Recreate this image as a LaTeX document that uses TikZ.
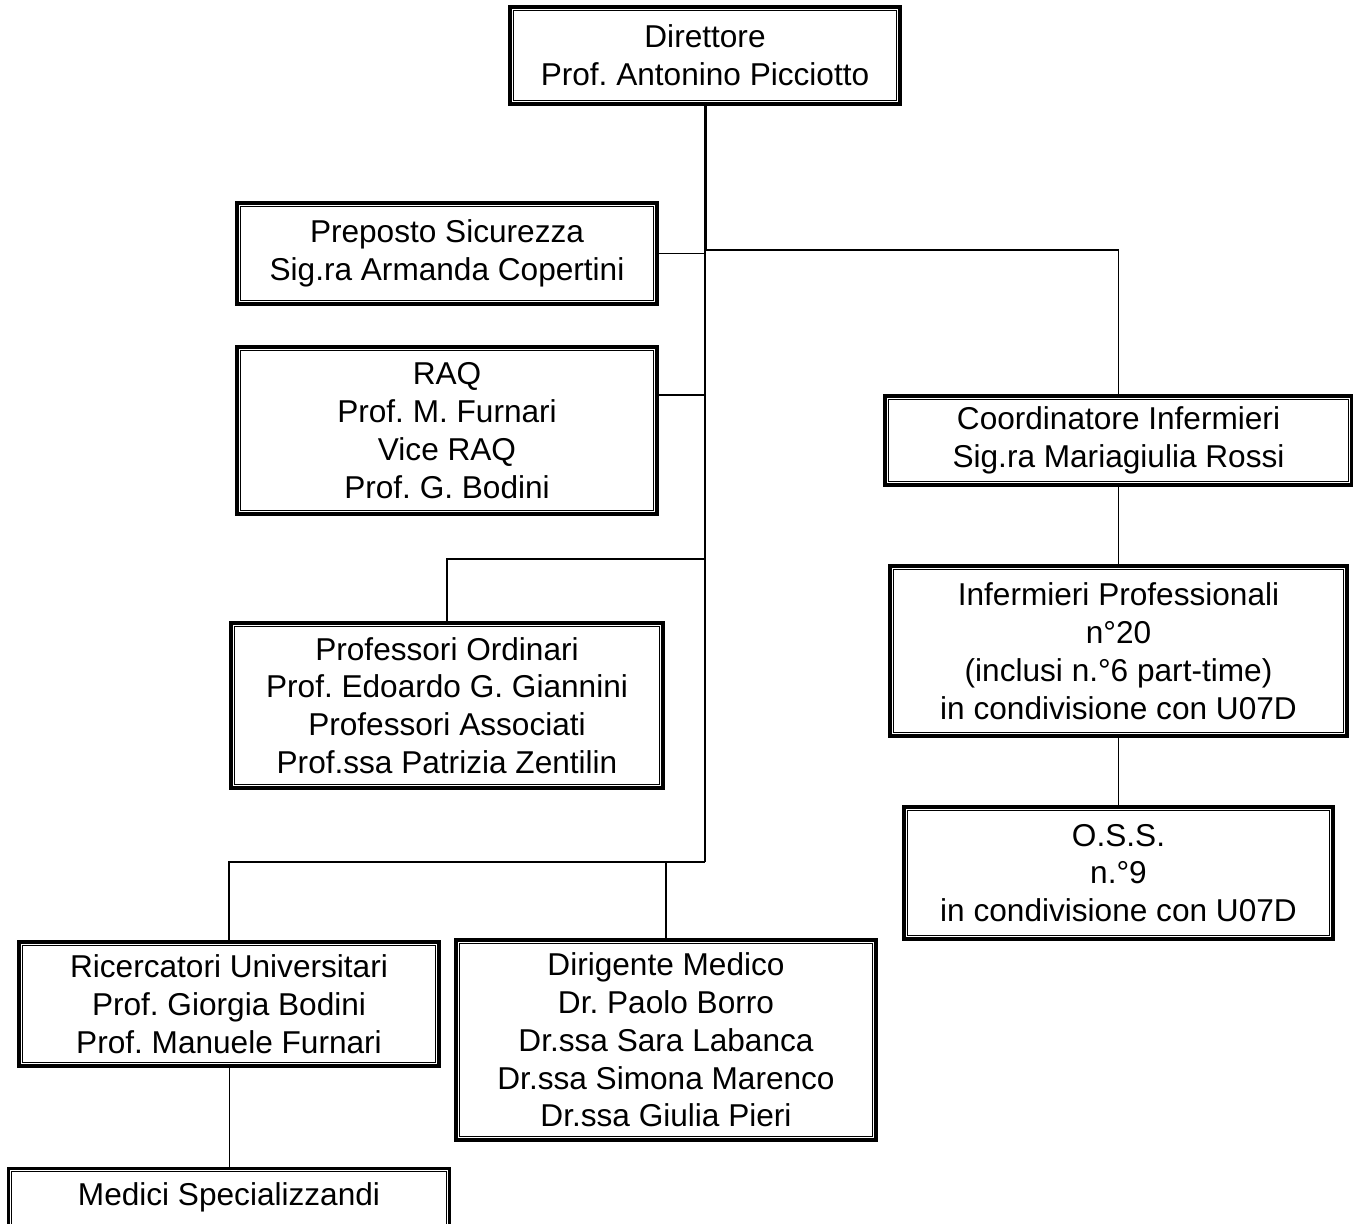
\documentclass[tikz,border=0pt]{standalone}
\usepackage{fontspec}
\setmainfont{Liberation Sans}
\usetikzlibrary{calc}
\frenchspacing

\begin{document}
\begin{tikzpicture}[x=0.5pt, y=-0.5pt,
    box/.style={draw, line width=1.7pt, inner sep=0pt, align=center,
      font=\fontsize{15.8}{18.9}\selectfont,
      path picture={\draw[line width=0.5pt]
        ([shift={(1.6pt,1.6pt)}]path picture bounding box.south west) rectangle
        ([shift={(-1.6pt,-1.6pt)}]path picture bounding box.north east);}},
    link/.style={line width=0.9pt}]
  \useasboundingbox (0,0) rectangle (1353,1223);
  \clip (0,0) rectangle (1353,1223);

  % 各个方框
  \node[box, minimum width=195pt, minimum height=48.5pt] (dir) at (705, 55.5)
    {Direttore\\Prof. Antonino Picciotto};
  \node[box, minimum width=210pt, minimum height=50.5pt] (prep) at (447, 253.5)
    {Preposto Sicurezza\\Sig.ra Armanda Copertini};
  \node[box, minimum width=210pt, minimum height=83.5pt] (raq) at (447, 430.5)
    {RAQ\\Prof. M. Furnari\\Vice RAQ\\Prof. G. Bodini};
  \node[box, minimum width=216pt, minimum height=82.5pt] (prof) at (447, 705.5)
    {Professori Ordinari\\Prof. Edoardo G. Giannini\\Professori Associati\\Prof.ssa Patrizia Zentilin};
  \node[box, minimum width=210pt, minimum height=62pt] (ric) at (229, 1004)
    {Ricercatori Universitari\\Prof. Giorgia Bodini\\Prof. Manuele Furnari};
  \node[box, minimum width=210pt, minimum height=100pt] (dirig) at (666, 1040)
    {Dirigente Medico\\Dr. Paolo Borro\\Dr.ssa Sara Labanca\\Dr.ssa Simona Marenco\\Dr.ssa Giulia Pieri};
  \node[box, minimum width=220.5pt, text height=18.5pt, text depth=50pt, anchor=north] (med) at (229, 1167)
    {Medici Specializzandi};
  \node[box, minimum width=233.5pt, minimum height=44.5pt] (coord) at (1118.5, 440.5)
    {Coordinatore Infermieri\\Sig.ra Mariagiulia Rossi};
  \node[box, minimum width=228.5pt, minimum height=85pt] (inf) at (1118.5, 651)
    {Infermieri Professionali\\n°20\\(inclusi n.°6 part-time)\\in condivisione con U07D};
  \node[box, minimum width=214.5pt, minimum height=66pt] (oss) at (1118.5, 873)
    {O.S.S.\\n.°9\\in condivisione con U07D};

  % 连接线
  \coordinate (j1) at (705, 250);
  \coordinate (j2) at (705, 395);
  \coordinate (j3) at (705, 559);
  \coordinate (j4) at (705, 862);

  \draw[line width=1.5pt] (dir.south) -- (j1);
  \draw[link] (j1) -- (j4);
  \draw[link] (j1) -| (coord.north);
  \draw[link] (prep.east) -- (prep.east -| j1);
  \draw[link] (j2) -- (j2 -| raq.east);
  \draw[link] (j3) -| (prof.north);
  \draw[link] (j4) -| (ric.north);
  \draw[link] (dirig.north |- j4) -- (dirig.north);
  \draw[line width=0.5pt] (ric.south) -- (med.north);
  \draw[link] (coord.south) -- (inf.north);
  \draw[link] (inf.south) -- (oss.north);
\end{tikzpicture}
\end{document}
